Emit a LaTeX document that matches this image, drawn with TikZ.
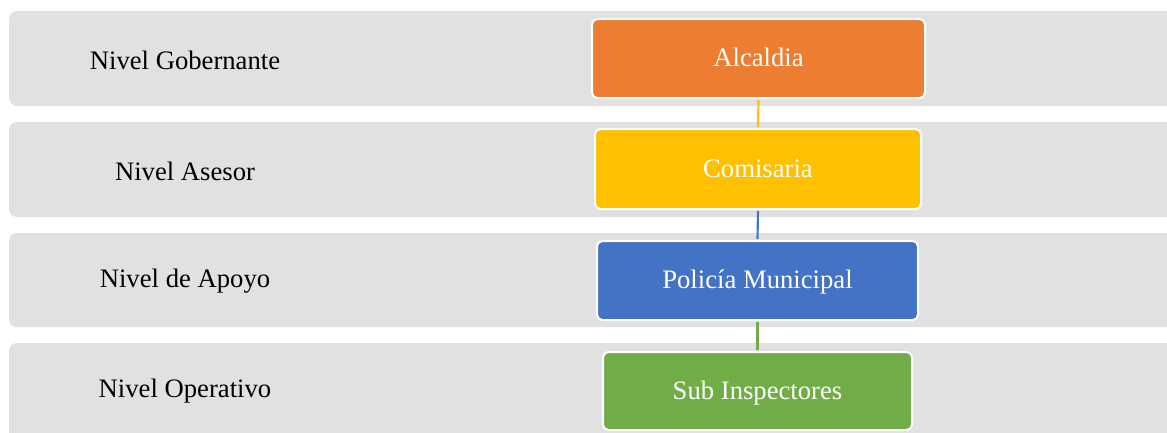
\documentclass[tikz,border=0pt]{standalone}
\usepackage{fontspec}
\setmainfont{Liberation Serif}
\definecolor{bandgray}{HTML}{E1E1E1}
\definecolor{corange}{HTML}{ED7D31}
\definecolor{cyellow}{HTML}{FFC000}
\definecolor{cblue}{HTML}{4472C4}
\definecolor{cgreen}{HTML}{70AD47}
\begin{document}
\begin{tikzpicture}[x=0.75pt,y=-0.75pt,
  band/.style={fill=bandgray,draw=none,rounded corners=6pt},
  lvl/.style={font=\fontsize{20}{24}\selectfont,text=black,anchor=center},
  unit/.style={draw=white,line width=1.5pt,rounded corners=4pt,
    font=\fontsize{20}{24}\selectfont,text=white,inner sep=0pt,
    text depth=0pt,text height=12pt},
  link/.style={line width=1.6pt}]
\useasboundingbox (0,0) rectangle (1167,432);
\clip (0,0) rectangle (1167,432);
% bands
\fill[band] (9,11) rectangle (1190,106);
\fill[band] (9,122) rectangle (1190,217);
\fill[band] (9,233) rectangle (1190,327);
\fill[band] (9,343) rectangle (1190,450);
% level labels
\node[lvl] (l1) at (185,60) {Nivel Gobernante};
\node[lvl] (l2) at (185,171) {Nivel Asesor};
\node[lvl] (l3) at (185,281.5) {Nivel de Apoyo};
\node[lvl] (l4) at (185,391.5) {Nivel Operativo};
% units
\node[unit,fill=corange,minimum width=333*0.75pt,minimum height=79*0.75pt] (a) at (758.5,58.5) {Alcaldia};
\node[unit,fill=cyellow,minimum width=326*0.75pt,minimum height=80*0.75pt] (c) at (758,169) {Comisaria};
\node[unit,fill=cblue,minimum width=321*0.75pt,minimum height=79*0.75pt] (p) at (757.5,280.5) {Policía Municipal};
\node[unit,fill=cgreen,minimum width=309*0.75pt,minimum height=78*0.75pt] (s) at (757.5,391) {Sub Inspectores};
% connectors
\draw[link,cyellow] ([yshift=-0.75pt]a.south) -- ([yshift=0.75pt]c.north);
\draw[link,cblue] ([yshift=-0.75pt]c.south) -- ([yshift=0.75pt]p.north);
\draw[link,cgreen] ([yshift=-0.75pt]p.south) -- ([yshift=0.75pt]s.north);
\end{tikzpicture}
\end{document}
